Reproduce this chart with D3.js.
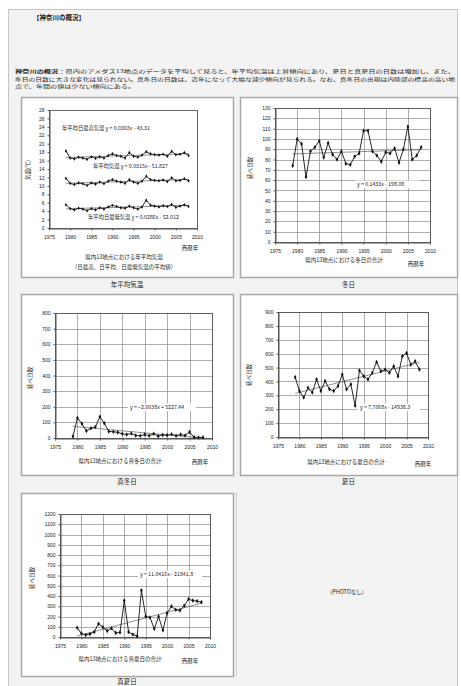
<!DOCTYPE html>
<html><head><meta charset="utf-8">
<script src="https://cdn.jsdelivr.net/npm/d3@7"></script>
<style>
body{margin:0;background:#fff;}
svg text{font-family:"Noto Sans CJK JP","Noto Sans",sans-serif;fill:#222;}
</style></head><body>
<svg id="page" width="461" height="686"></svg>
<script>
// Observation years
const years = [1979,1980,1981,1982,1983,1984,1985,1986,1987,1988,1989,1990,1991,1992,1993,
  1994,1995,1996,1997,1998,1999,2000,2001,2002,2003,2004,2005,2006,2007,2008];

// Annual temperatures (°C): daily max mean, mean, daily min mean
const tempMax  = [18.3,16.6,16.4,16.8,16.6,16.3,16.9,16.5,16.9,16.6,17.2,17.6,17.2,17.0,16.6,
  17.9,17.0,16.8,17.3,18.1,17.6,17.4,17.3,17.5,17.0,18.2,17.4,17.5,17.9,17.2];
const tempMean = [11.8,10.6,10.3,10.7,10.5,10.1,10.7,10.4,10.9,10.5,11.1,11.5,11.1,10.9,10.6,
  11.5,10.9,10.6,11.1,12.3,11.5,11.3,11.2,11.4,11.0,11.9,11.2,11.3,11.7,11.2];
const tempMin  = [5.5,4.6,4.3,4.7,4.5,4.1,4.6,4.3,4.8,4.5,5.0,5.4,5.1,4.8,4.7,
  5.2,4.8,4.5,5.0,6.6,5.4,5.2,5.0,5.3,5.1,5.6,4.9,5.2,5.5,5.1];

// Day counts summed over the stations
const winterDays = [74,100,95,63,88,92,98,82,96,85,80,88,76,75,83,
  86,108,108,88,84,78,87,86,91,77,90,112,80,84,92];
const iceDays = [10,128,92,45,62,70,136,95,42,40,36,27,22,29,16,
  14,22,15,27,12,20,17,24,15,22,16,38,5,3,4];
const summerDays = [431,332,284,355,320,415,332,403,344,332,367,450,344,380,225,
  479,438,415,462,540,474,486,462,509,438,581,604,521,545,486];
const hotDays = [90,35,20,30,50,130,95,60,85,40,45,355,50,25,8,
  455,200,190,80,200,65,235,300,265,260,305,370,355,350,340];

const xTickYears = [1975,1980,1985,1990,1995,2000,2005,2010];

const svg = d3.select("#page");

// page frame
svg.append("rect").attr("x",8.5).attr("y",9.5).attr("width",449).attr("height",690)
  .attr("fill","#f3f3f3").attr("stroke","#c4c4c4");

svg.append("text").attr("x",33).attr("y",19.5).attr("font-size",6.5).attr("font-weight","bold")
  .text("【神奈川の概況】");

const para = [
  ["神奈川の概況", "：県内のアメダス13地点のデータを平均して見ると、年平均気温は上昇傾向にあり、夏日と真夏日の日数は増加し、また、"],
  ["", "冬日の日数に大きな変化は見られない。真冬日の日数は、近年になって大幅な減少傾向が見られる。なお、真冬日の出現は内陸部の標高の高い地"],
  ["", "点で、年間の値は少ない傾向にある。"]
];
const paraW = [440, 440, 120];
para.forEach((ln, i) => {
  const t = svg.append("text").attr("x",15).attr("y",73 + i*7.6).attr("font-size",5.1)
    .attr("textLength",paraW[i]).attr("lengthAdjust","spacingAndGlyphs");
  if (ln[0]) t.append("tspan").attr("font-weight","bold").text(ln[0]);
  t.append("tspan").text(ln[1]);
});

function linreg(xs, ys) {
  const mx = d3.mean(xs), my = d3.mean(ys);
  let sxy = 0, sxx = 0;
  xs.forEach((x, i) => { sxy += (x - mx) * (ys[i] - my); sxx += (x - mx) * (x - mx); });
  const b = sxy / sxx;
  return {slope: b, intercept: my - b * mx};
}
function eqText(r, dIntercept) {
  const s = d3.format(".4f")(r.slope);
  const c = d3.format("." + dIntercept + "f")(Math.abs(r.intercept));
  return "y = " + s + "x " + (r.intercept < 0 ? "- " : "+ ") + c;
}

function drawChart(o) {
  const g = svg.append("g");
  // panel
  g.append("rect").attr("x",o.panel[0]+0.5).attr("y",o.panel[1]+0.5)
    .attr("width",o.panel[2]).attr("height",o.panel[3])
    .attr("fill","#fff").attr("stroke","#a8a8a8").attr("stroke-width",1.5);
  g.append("text").attr("x",o.panel[0]+o.panel[2]/2).attr("y",o.captionY)
    .attr("text-anchor","middle").attr("font-size",6.5).text(o.caption);

  const x = d3.scaleLinear().domain([1975,2010]).range([o.plot[0],o.plot[1]]);
  const y = d3.scaleLinear().domain([0,o.yMax]).range([o.plot[3],o.plot[2]]);
  const yTicks = d3.range(0, o.yMax + o.yStep/2, o.yStep);

  if (o.grid) {
    g.append("g").selectAll("line").data(yTicks).join("line")
      .attr("x1",o.plot[0]).attr("x2",o.plot[1])
      .attr("y1",d=>Math.round(y(d))+0.5).attr("y2",d=>Math.round(y(d))+0.5)
      .attr("stroke","#8a8a8a").attr("stroke-width",0.7);
    g.append("g").selectAll("line").data(xTickYears).join("line")
      .attr("y1",o.plot[2]).attr("y2",o.plot[3])
      .attr("x1",d=>Math.round(x(d))+0.5).attr("x2",d=>Math.round(x(d))+0.5)
      .attr("stroke","#8a8a8a").attr("stroke-width",0.7);
  }
  g.append("rect").attr("x",o.plot[0]+0.5).attr("y",o.plot[2]+0.5)
    .attr("width",o.plot[1]-o.plot[0]).attr("height",o.plot[3]-o.plot[2])
    .attr("fill","none").attr("stroke","#555").attr("stroke-width",0.9);

  const ya = g.append("g").attr("transform",`translate(${o.plot[0]+0.5},0)`)
    .call(d3.axisLeft(y).tickValues(yTicks).tickFormat(d3.format("d")).tickSize(2).tickSizeOuter(0).tickPadding(3));
  const xa = g.append("g").attr("transform",`translate(0,${o.plot[3]+0.5})`)
    .call(d3.axisBottom(x).tickValues(xTickYears).tickFormat(d3.format("d")).tickSize(2).tickSizeOuter(0).tickPadding(5));
  [ya, xa].forEach(a => {
    a.select(".domain").attr("stroke","#555");
    a.selectAll(".tick line").attr("stroke","#555");
    a.selectAll("text").attr("font-size",5).attr("fill","#333")
      .style("font-family","'Liberation Sans',Arial,sans-serif");
  });

  // axis titles
  g.append("text").attr("transform",`translate(${o.yLabelPos[0]},${o.yLabelPos[1]}) rotate(-90)`)
    .attr("text-anchor","middle").attr("font-size",5.5).text(o.yLabel);
  o.xLabel.forEach((t, i) => {
    g.append("text").attr("x",o.xLabelPos[0]).attr("y",o.xLabelPos[1] + i*9.5)
      .attr("text-anchor","middle").attr("font-size",5.5).text(t);
  });
  g.append("text").attr("x",o.yearPos[0]).attr("y",o.yearPos[1])
    .attr("text-anchor","middle").attr("font-size",5.5).text("西暦年");

  // series, trend lines and equations
  o.series.forEach(s => {
    const pts = years.map((yr, i) => [yr, s.values[i]]);
    const r = linreg(years, s.values);
    g.append("line").attr("x1",x(years[0])).attr("x2",x(years[years.length-1]))
      .attr("y1",y(r.slope*years[0]+r.intercept)).attr("y2",y(r.slope*years[years.length-1]+r.intercept))
      .attr("stroke","#444").attr("stroke-width",0.6);
    g.append("path").datum(pts)
      .attr("d",d3.line().x(d=>x(d[0])).y(d=>y(d[1])))
      .attr("fill","none").attr("stroke","#111").attr("stroke-width",0.9);
    g.append("g").selectAll("path").data(pts).join("path")
      .attr("transform",d=>`translate(${x(d[0])},${y(d[1])})`)
      .attr("d",d3.symbol(d3.symbolDiamond, s.markerSize || 6))
      .attr("fill","#111");

    const lab = g.append("g").attr("transform",`translate(${s.eqPos[0]},${s.eqPos[1]})`);
    const txt = (s.name ? s.name + "  " : "") + eqText(r, s.dec);
    if (s.box) {
      const w = s.boxW;
      lab.append("rect").attr("x",-2).attr("y",-5.5).attr("width",w).attr("height",7.5).attr("fill","#fff");
    }
    lab.append("text").attr("x",0).attr("y",0).attr("font-size",5.3).text(txt);
  });
}

drawChart({
  panel:[21,97,212,180], caption:"年平均気温", captionY:287,
  plot:[49,197,110,228], yMax:28, yStep:2, grid:false,
  yLabel:"気温(℃)", yLabelPos:[30,170],
  xLabel:["県内13地点における年平均気温","（日最高、日平均、日最低気温の平均値）"], xLabelPos:[124,259],
  yearPos:[190,250],
  series:[
    {values:tempMax, name:"年平均日最高気温", eqPos:[62,130], dec:2, markerSize:4},
    {values:tempMean, name:"年平均気温", eqPos:[93,168], dec:3, markerSize:4},
    {values:tempMin, name:"年平均日最低気温", eqPos:[88,219], dec:3, markerSize:4}
  ]
});

drawChart({
  panel:[240,97,217,180], caption:"冬日", captionY:287,
  plot:[275,430,108,242], yMax:130, yStep:10, grid:true,
  yLabel:"延べ日数", yLabelPos:[252,168],
  xLabel:["県内13地点における冬日の合計"], xLabelPos:[344,262],
  yearPos:[416,266],
  series:[{values:winterDays, eqPos:[357,186], dec:2, box:true, boxW:64}]
});

drawChart({
  panel:[21,294,212,181], caption:"真冬日", captionY:484,
  plot:[55,212,313,438], yMax:800, yStep:100, grid:true,
  yLabel:"延べ日数", yLabelPos:[32,378],
  xLabel:["県内13地点における真冬日の合計"], xLabelPos:[120,463],
  yearPos:[200,464],
  series:[{values:iceDays, eqPos:[130,409], dec:2, box:true, boxW:68}]
});

drawChart({
  panel:[240,294,217,181], caption:"夏日", captionY:484,
  plot:[278,428,312,437], yMax:900, yStep:100, grid:true,
  yLabel:"延べ日数", yLabelPos:[251,375],
  xLabel:["県内13地点における夏日の合計"], xLabelPos:[346,464],
  yearPos:[423,466],
  series:[{values:summerDays, eqPos:[360,409], dec:1, box:true, boxW:62}]
});

drawChart({
  panel:[21,493,212,183], caption:"真夏日", captionY:684,
  plot:[60,210,514,637], yMax:1200, yStep:100, grid:true,
  yLabel:"延べ日数", yLabelPos:[34,578],
  xLabel:["県内13地点における真夏日の合計"], xLabelPos:[120,661],
  yearPos:[190,663],
  series:[{values:hotDays, eqPos:[140,576], dec:1, box:true, boxW:64}]
});

// empty cell
svg.append("line").attr("x1",236.5).attr("x2",236.5).attr("y1",492).attr("y2",676)
  .attr("stroke","#cfcfcf");
svg.append("text").attr("x",347).attr("y",594).attr("text-anchor","middle")
  .attr("font-size",5.5).text("(PHOTOなし)");
</script>
</body></html>
